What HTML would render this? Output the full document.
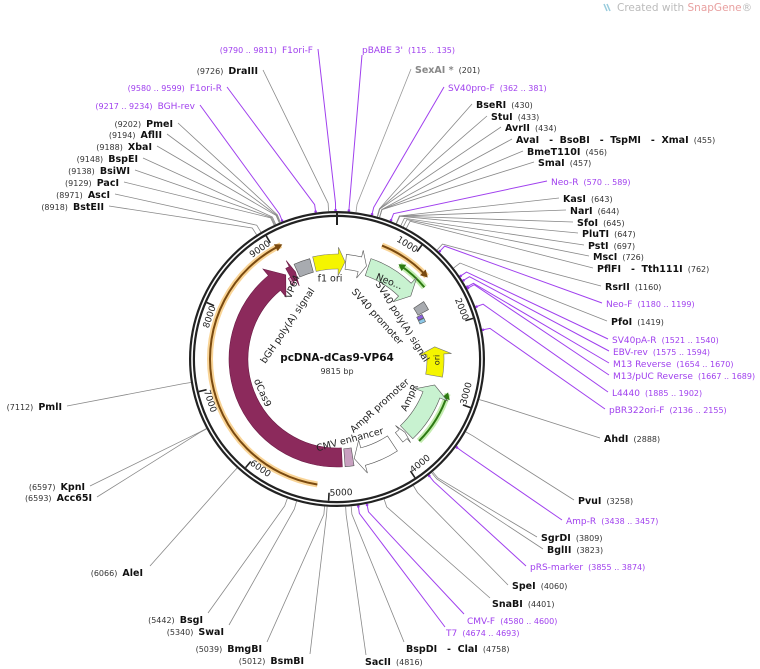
<!DOCTYPE html>
<html><head><meta charset="utf-8"><style>
body{margin:0;background:#fff;}
svg{display:block;font-family:"DejaVu Sans","Liberation Sans",sans-serif;}
text{white-space:pre}
.n{font-weight:bold;font-size:9.5px;fill:#111}
.p{font-size:8px;fill:#333}
.pr{font-size:9px;fill:#a040ee}
.prn{font-size:8px;fill:#a040ee}
</style></head><body>
<svg id="s" width="760" height="669" viewBox="0 0 760 669" xmlns="http://www.w3.org/2000/svg">
<text x="617" y="11" font-size="10.5" fill="#bbb">Created with <tspan fill="#e8a0a0">SnapGene</tspan>®</text>
<path d="M604 4 l3 7 M607 4 l3 7" stroke="#9cd" stroke-width="1.5"/>
<g id="lines"></g>
<g id="ring"></g>
<g id="feat"></g>
<g id="labels"></g>
<text x="337" y="361" text-anchor="middle" font-size="10.5" font-weight="bold" fill="#111">pcDNA-dCas9-VP64</text>
<text x="337" y="374" text-anchor="middle" font-size="8" fill="#333">9815 bp</text>
</svg>
<script>
const NS="http://www.w3.org/2000/svg",cx=337,cy=359,N=9815;
function P(r,b){const t=b/N*2*Math.PI;return [cx+r*Math.sin(t),cy-r*Math.cos(t)];}
function el(tag,a,p,txt){const e=document.createElementNS(NS,tag);for(const k in a)e.setAttribute(k,a[k]);if(txt!==undefined)e.textContent=txt;p.appendChild(e);return e;}
const G=id=>document.getElementById(id);
const ring=G('ring');
el('circle',{cx,cy,r:145,fill:'none',stroke:'#222','stroke-width':6},ring);
el('circle',{cx,cy,r:145,fill:'none',stroke:'#fff','stroke-width':1.6},ring);
let a=P(148,0),b=P(134,0);el('line',{x1:a[0],y1:a[1],x2:b[0],y2:b[1],stroke:'#222','stroke-width':2},ring);
for(let k=1000;k<=9000;k+=1000){a=P(142,k);b=P(134,k);el('line',{x1:a[0],y1:a[1],x2:b[0],y2:b[1],stroke:'#222','stroke-width':1.6},ring);
 const q=P(134,k-140);let ang=(k-140)/N*360;let rot=ang>90&&ang<270?ang-180:(ang>=270?ang-360:ang);
 el('text',{x:q[0],y:q[1],'font-size':9,fill:'#222','text-anchor':'middle','dominant-baseline':'middle',transform:`rotate(${rot} ${q[0]} ${q[1]})`},ring,String(k));}
function arc(r,b1,b2){const s=P(r,b1),e=P(r,b2);let d=(b2-b1+N)%N;return `M${s[0]} ${s[1]} A${r} ${r} 0 ${d>N/2?1:0} 1 ${e[0]} ${e[1]}`;}
function band(r1,r2,b1,b2,dir,head,fill,stroke){
 let s=b1,e=b2;if(dir==1)e=b2-head;if(dir==-1)s=b1+head;
 const A=P(r2,s),B=P(r2,e),C=P(r1,e),D=P(r1,s);let d=(e-s+N)%N,L=d>N/2?1:0;
 let p=`M${A[0]} ${A[1]} A${r2} ${r2} 0 ${L} 1 ${B[0]} ${B[1]}`;
 const w=(r2-r1)*0.45,rm=(r1+r2)/2;
 if(dir==1){const o=P(r2+w,e),t=P(rm,b2),i=P(r1-w,e);p+=`L${o[0]} ${o[1]}L${t[0]} ${t[1]}L${i[0]} ${i[1]}`;}
 p+=`L${C[0]} ${C[1]} A${r1} ${r1} 0 ${L} 0 ${D[0]} ${D[1]}`;
 if(dir==-1){const i=P(r1-w,s),t=P(rm,b1),o=P(r2+w,s);p+=`L${i[0]} ${i[1]}L${t[0]} ${t[1]}L${o[0]} ${o[1]}`;}
 p+='Z';el('path',{d:p,fill,stroke:stroke||'#555','stroke-width':0.6},G('feat'));}
const F=G('feat');
function oarc(r,b1,b2,col,glow){el('path',{d:arc(r,b1,b2),fill:'none',stroke:glow,'stroke-width':6,'stroke-opacity':0.6},F);
 el('path',{d:arc(r,b1,b2),fill:'none',stroke:col,'stroke-width':2},F);}
oarc(127,5150,9100,'#7a4a10','#f5b850');
oarc(122,590,1290,'#7a4a10','#f5b850');
oarc(113,920,1380,'#2d7a12','#9be07a');
oarc(116,2930,3680,'#2d7a12','#9be07a');
function ah(r,bp,dir,col){const t=P(r,bp),a1=P(r+4,bp-dir*90),a2=P(r-4,bp-dir*90);el('path',{d:`M${t[0]} ${t[1]}L${a1[0]} ${a1[1]}L${a2[0]} ${a2[1]}Z`,fill:col},F);}
ah(127,9120,1,'#7a4a10');ah(122,1310,1,'#7a4a10');ah(113,900,-1,'#2d7a12');ah(116,2910,-1,'#2d7a12');
band(89,108,4830,8960,1,220,'#8c2a5c','#6a1a44');
band(86,94,8965,9010,0,0,'#e8a0c8','#6a1a44');
band(89,104,9010,9120,1,50,'#8c2a5c','#6a1a44');
band(90,104,9150,9400,0,0,'#a8abb0');
band(90,105,9450,130,1,110,'#f5f500','#777');
band(90,105,140,480,1,110,'#fff','#555');
band(88,106,510,1350,1,140,'#c8f2d0','#555');
band(92,104,1540,1680,0,0,'#a8abb0');
band(90,96,1700,1760,0,0,'#8a60e0');
band(90,96,1770,1830,0,0,'#8cc8e8');
band(90,107,2260,2720,-1,120,'#f5f500','#777');
band(92,110,2860,3720,-1,160,'#c8f2d0','#555');
band(94,106,3740,3860,-1,40,'#fff','#555');
band(92,110,4000,4640,1,140,'#fff','#555');
band(90,108,4660,4790,0,0,'#c8a0c0','#555');
function rl(x,y,rot,t,fs){el('text',{x,y,'font-size':fs||9.5,fill:'#222','text-anchor':'middle','dominant-baseline':'middle',transform:`rotate(${rot} ${x} ${y})`},F,t);}
rl(293,287,-68,'VP64');rl(330,279,0,'f1 ori');rl(288,326,-56,'bGH poly(A) signal');
rl(377,317,48,'SV40 promoter');rl(402,322,58,'SV40 poly(A) signal');rl(389,282,22,'Neo...');
rl(437,360,-90,'ori',8);rl(262,393,66,'dCas9');rl(380,406,-42,'AmpR promoter');rl(410,398,-65,'AmpR');rl(350,440,-15,'CMV enhancer');
const L=[
['L',313,53,'F1ori-F','(9790 .. 9811)',9800,'pr'],
['L',258,74,'DraIII','(9726)',9726,'n'],
['L',222,91,'F1ori-R','(9580 .. 9599)',9590,'pr'],
['L',195,109,'BGH-rev','(9217 .. 9234)',9225,'pr'],
['L',173,127,'PmeI','(9202)',9202,'n'],
['L',162,138,'AflII','(9194)',9194,'n'],
['L',152,150,'XbaI','(9188)',9188,'n'],
['L',138,162,'BspEI','(9148)',9148,'n'],
['L',130,174,'BsiWI','(9138)',9138,'n'],
['L',119,186,'PacI','(9129)',9129,'n'],
['L',110,198,'AscI','(8971)',8971,'n'],
['L',104,210,'BstEII','(8918)',8918,'n'],
['L',62,410,'PmlI','(7112)',7112,'n'],
['L',85,490,'KpnI','(6597)',6597,'n'],
['L',92,501,'Acc65I','(6593)',6593,'n'],
['L',143,576,'AleI','(6066)',6066,'n',150,566],
['L',203,623,'BsgI','(5442)',5442,'n',208,613],
['L',224,635,'SwaI','(5340)',5340,'n',229,625],
['L',262,652,'BmgBI','(5039)',5039,'n',267,642],
['L',304,664,'BsmBI','(5012)',5012,'n',310,654],
['R',362,53,"pBABE 3'",'(115 .. 135)',125,'pr',362,55],
['R',415,73,'SexAI *','(201)',201,'g'],
['R',448,91,'SV40pro-F','(362 .. 381)',371,'pr'],
['R',476,108,'BseRI','(430)',430,'n'],
['R',491,120,'StuI','(433)',433,'n'],
['R',505,131,'AvrII','(434)',434,'n'],
['R',516,143,'AvaI   -  BsoBI   -  TspMI   -  XmaI','(455)',455,'n'],
['R',527,155,'BmeT110I','(456)',456,'n'],
['R',538,166,'SmaI','(457)',457,'n'],
['R',551,185,'Neo-R','(570 .. 589)',580,'pr'],
['R',563,202,'KasI','(643)',643,'n'],
['R',570,214,'NarI','(644)',644,'n'],
['R',577,226,'SfoI','(645)',645,'n'],
['R',582,237,'PluTI','(647)',647,'n'],
['R',588,249,'PstI','(697)',697,'n'],
['R',593,260,'MscI','(726)',726,'n'],
['R',597,272,'PflFI   -  Tth111I','(762)',762,'n'],
['R',605,290,'RsrII','(1160)',1160,'n'],
['R',606,307,'Neo-F','(1180 .. 1199)',1190,'pr'],
['R',611,325,'PfoI','(1419)',1419,'n'],
['R',612,343,'SV40pA-R','(1521 .. 1540)',1530,'pr'],
['R',613,355,'EBV-rev','(1575 .. 1594)',1585,'pr'],
['R',613,367,'M13 Reverse','(1654 .. 1670)',1662,'pr'],
['R',613,379,'M13/pUC Reverse','(1667 .. 1689)',1678,'pr'],
['R',612,396,'L4440','(1885 .. 1902)',1893,'pr'],
['R',609,413,'pBR322ori-F','(2136 .. 2155)',2145,'pr'],
['R',604,442,'AhdI','(2888)',2888,'n'],
['R',578,504,'PvuI','(3258)',3258,'n'],
['R',566,524,'Amp-R','(3438 .. 3457)',3447,'pr'],
['R',541,541,'SgrDI','(3809)',3809,'n'],
['R',547,553,'BglII','(3823)',3823,'n'],
['R',530,570,'pRS-marker','(3855 .. 3874)',3864,'pr'],
['R',512,589,'SpeI','(4060)',4060,'n'],
['R',492,607,'SnaBI','(4401)',4401,'n',490,598],
['R',467,624,'CMV-F','(4580 .. 4600)',4590,'pr',464,614],
['R',446,636,'T7','(4674 .. 4693)',4683,'pr',445,627],
['R',406,652,'BspDI   -  ClaI','(4758)',4758,'n',404,642],
['R',365,665,'SacII','(4816)',4816,'n',366,655],
];
const LB=G('labels'),LN=G('lines');
for(const l of L){const [s,x,y,nm,num,bp,t,ax,ay]=l;
 const isP=t=='pr',col=isP?'#a040ee':(t=='g'?'#999':'#888');
 const nc=isP?'pr':'n',pc=isP?'prn':'p';
 const g=el('text',{x,y,'text-anchor':s=='L'?'end':'start'},LB);
 const sty=t=='g'?'fill:#888':'';
 if(s=='L'){el('tspan',{class:pc},g,num+'  ');el('tspan',{class:nc,style:sty},g,nm);}
 else{el('tspan',{class:nc,style:sty},g,nm);el('tspan',{class:pc},g,'  '+num);}
 let sx,sy;
 if(ax!==undefined){sx=ax;sy=ay;}else{sx=s=='L'?x+5:x-4;sy=y-4;}
 const k=P(156,bp),r=P(isP?149:148,bp);
 el('polyline',{points:`${sx},${sy} ${k[0]},${k[1]} ${r[0]},${r[1]}`,fill:'none',stroke:col,'stroke-width':isP?1:0.8},LN);
 if(isP){el('circle',{cx:r[0],cy:r[1],r:1.3,fill:col},LN);}
}
</script>
</body></html>
